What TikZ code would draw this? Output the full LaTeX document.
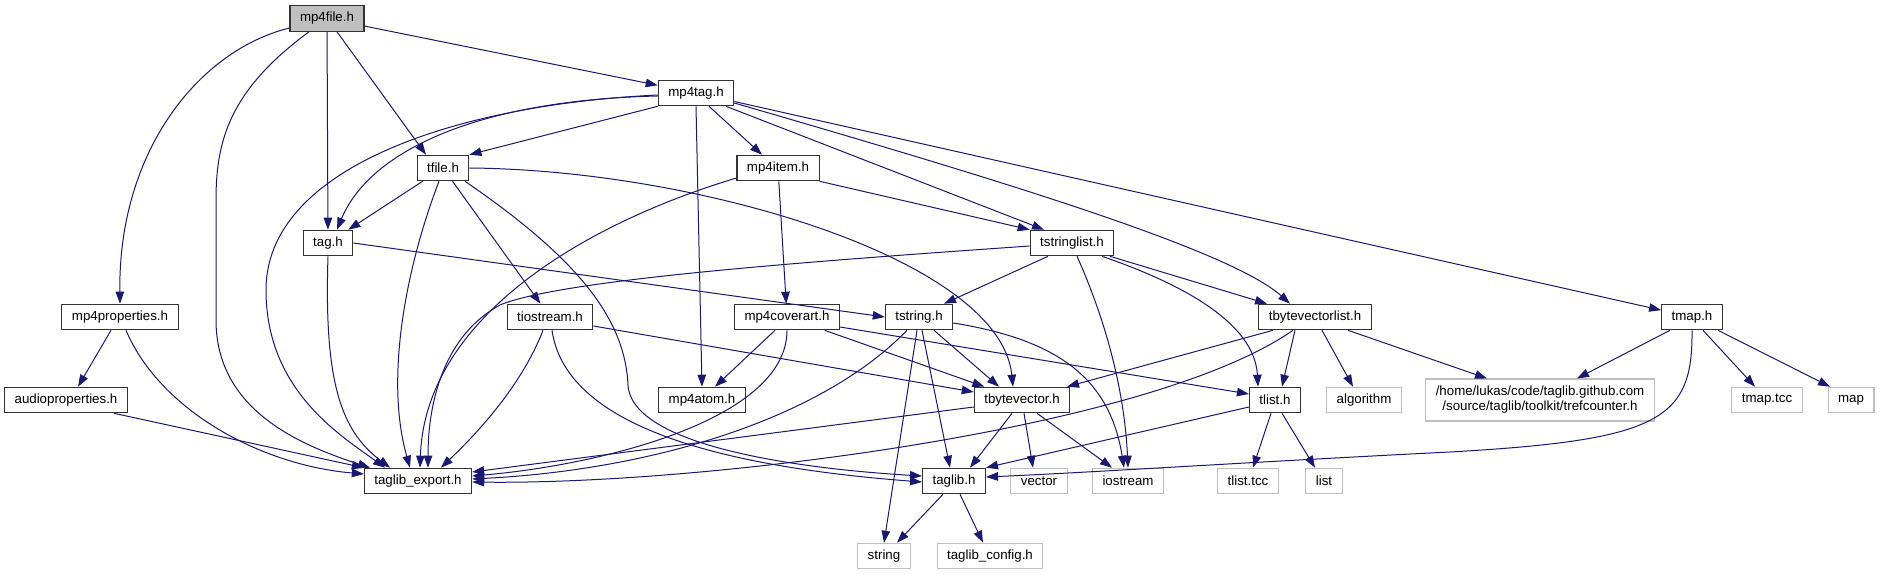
\documentclass[tikz,border=0pt]{standalone}
\usepackage{fontspec}
\setmainfont{Liberation Sans}
\usetikzlibrary{arrows.meta}
\definecolor{edgeblue}{HTML}{191970}
\definecolor{boxgray}{HTML}{BFBFBF}
\tikzset{
  hdr/.style={draw=black!80, line width=1.1pt, minimum height=25.5pt,
    inner xsep=10pt, inner ysep=0pt, font=\fontsize{13.3pt}{15pt}\selectfont},
  syshdr/.style={hdr, draw=boxgray},
  roothdr/.style={hdr, fill=boxgray},
  dep/.style={draw=edgeblue, line width=1pt, -{Triangle[length=12pt,width=8.5pt]}},
}
\begin{document}
\begin{tikzpicture}[x=1pt, y=-1pt]
  \useasboundingbox (0,0) rectangle (1880,575);
  % --- project headers ---
  \node[roothdr] (mp4file) at (327,18.5) {mp4file.h};
  \foreach \n/\x/\y/\t in {mp4tag/696/93/mp4tag.h, tfile/443/168/tfile.h,
    mp4item/778/168/mp4item.h, tag/328/243/tag.h, tstringlist/1072/243/tstringlist.h,
    mp4props/120/317/mp4properties.h, tiostream/550/317/tiostream.h,
    mp4coverart/787/317/mp4coverart.h, tstring/919/317/tstring.h,
    tbvlist/1315/317/tbytevectorlist.h, tmap/1692/317/tmap.h,
    audioprops/66/400/audioproperties.h, mp4atom/702/400/mp4atom.h,
    tbytevector/1022/400/tbytevector.h, tlist/1275/400/tlist.h,
    tlexport/418/481/taglib\_export.h, taglib/954/481/taglib.h}{
    \node[hdr] (\n) at (\x,\y) {\t};
  }
  % --- system headers ---
  \foreach \n/\x/\y/\t in {algorithm/1364/400/algorithm, tmaptcc/1767/400/tmap.tcc,
    map/1851/400/map, vector/1039/481/vector, iostream/1128/481/iostream,
    tlisttcc/1248/481/tlist.tcc, list/1324/481/list, string/884/556/string,
    tlconfig/990/556/taglib\_config.h}{
    \node[syshdr] (\n) at (\x,\y) {\t};
  }
  \node[syshdr, align=center, minimum height=42pt] (trefcounter) at (1540,400)
    {/home/lukas/code/taglib.github.com\\/source/taglib/toolkit/trefcounter.h};
  % --- mp4file.h ---
  \draw[dep] ([yshift=-9.5pt]mp4file.west) .. controls (200,50) and (118,150) .. (mp4props.north);
  \draw[dep] ([xshift=-18pt]mp4file.south) .. controls (230,90) and (216,140) .. (216,200)
    -- (216,320) .. controls (216,410) and (300,445) .. ([xshift=-48pt]tlexport.north);
  \draw[dep] (mp4file) -- (tag);
  \draw[dep] ([xshift=10pt]mp4file.south) -- ([xshift=-17pt]tfile.north);
  \draw[dep] (mp4file) -- (mp4tag);
  % --- mp4tag.h ---
  \draw[dep] ([yshift=-2pt]mp4tag.west) .. controls (450,105) and (266,170) .. (266,290)
    .. controls (266,390) and (340,435) .. ([xshift=-33pt]tlexport.north);
  \draw[dep] ([yshift=-3pt]mp4tag.west) .. controls (480,100) and (370,150) .. ([xshift=9pt]tag.north);
  \draw[dep] (mp4tag.south west) -- (tfile.north east);
  \draw[dep] ([xshift=13pt]mp4tag.south) -- ([xshift=-16pt]mp4item.north);
  \draw[dep] (mp4tag.south) -- (mp4atom.north);
  \draw[dep] ([xshift=30pt]mp4tag.south) -- ([xshift=-28pt]tstringlist.north);
  \draw[dep] ([yshift=-10pt]mp4tag.east) .. controls (1000,180) and (1230,250) .. ([xshift=-25pt]tbvlist.north);
  \draw[dep] (mp4tag) -- (tmap);
  % --- mp4item.h ---
  \draw[dep] ([yshift=-10pt]mp4item.west) .. controls (580,225) and (425,320) .. ([xshift=2pt]tlexport.north);
  \draw[dep] (mp4item.south east) -- (tstringlist.north west);
  \draw[dep] (mp4item) -- (mp4coverart);
  % --- tfile.h ---
  \draw[dep] (tfile) -- (tag);
  \draw[dep] ([xshift=-4pt]tfile.south) .. controls (405,270) and (385,380) .. ([xshift=-8pt]tlexport.north);
  \draw[dep] (tfile) -- (tiostream);
  \draw[dep] ([xshift=22pt]tfile.south) .. controls (580,260) and (625,320) .. (628,385)
    .. controls (632,450) and (820,470) .. ([yshift=5pt]taglib.west);
  \draw[dep] (tfile.east) .. controls (700,170) and (1000,260) .. ([xshift=-9pt]tbytevector.north);
  % --- tag.h ---
  \draw[dep] (tag.south) .. controls (324,380) and (340,430) .. ([xshift=-28pt]tlexport.north);
  \draw[dep] (tag.east) -- (tstring.west);
  % --- tstringlist.h ---
  \draw[dep] ([yshift=-3pt]tstringlist.west) .. controls (800,262) and (560,280) .. (500,305)
    .. controls (445,335) and (428,400) .. ([xshift=10pt]tlexport.north);
  \draw[dep] ([xshift=-24pt]tstringlist.south) -- ([xshift=25pt]tstring.north);
  \draw[dep] ([xshift=5pt]tstringlist.south) .. controls (1110,330) and (1125,400) .. (iostream.north);
  \draw[dep] ([xshift=30pt]tstringlist.south) .. controls (1200,290) and (1255,330) .. ([xshift=-17pt]tlist.north);
  \draw[dep] ([xshift=38pt]tstringlist.south) -- ([xshift=-48pt]tbvlist.north);
  % --- mp4properties.h, audioproperties.h ---
  \draw[dep] ([xshift=-9pt]mp4props.south) -- ([xshift=12pt]audioprops.north);
  \draw[dep] ([xshift=6pt]mp4props.south) .. controls (160,410) and (260,465) .. ([yshift=7pt]tlexport.west);
  \draw[dep] ([xshift=48pt]audioprops.south) -- (tlexport.north west);
  % --- tiostream.h ---
  \draw[dep] ([xshift=-7pt]tiostream.south) .. controls (520,390) and (470,440) .. ([xshift=23pt]tlexport.north);
  \draw[dep] ([xshift=2pt]tiostream.south) .. controls (565,420) and (700,465) .. ([yshift=-1pt]taglib.west);
  \draw[dep] ([yshift=-9pt]tiostream.east) -- ([yshift=8pt]tbytevector.west);
  % --- mp4coverart.h ---
  \draw[dep] ([xshift=-12pt]mp4coverart.south) -- ([xshift=13pt]mp4atom.north);
  \draw[dep] (mp4coverart.south) .. controls (787,420) and (600,465) .. ([yshift=5pt]tlexport.east);
  \draw[dep] (mp4coverart) -- (tbytevector);
  \draw[dep] ([yshift=-10pt]mp4coverart.east) -- ([yshift=6pt]tlist.west);
  % --- tstring.h ---
  \draw[dep] ([xshift=-12pt]tstring.south) .. controls (820,420) and (650,470) .. ([yshift=2pt]tlexport.east);
  \draw[dep] ([xshift=15pt]tstring.south) -- ([xshift=-23pt]tbytevector.north);
  \draw[dep] ([xshift=3pt]tstring.south) -- ([xshift=-4pt]taglib.north);
  \draw[dep] ([xshift=-2pt]tstring.south) -- (string.north);
  \draw[dep] ([yshift=-6pt]tstring.east) .. controls (1060,340) and (1110,380) .. ([xshift=-4pt]iostream.north);
  % --- tbytevectorlist.h ---
  \draw[dep] ([xshift=-42pt]tbvlist.south) -- ([xshift=45pt]tbytevector.north);
  \draw[dep] ([xshift=-22pt]tbvlist.south) .. controls (1150,430) and (700,485) .. ([yshift=-1pt]tlexport.east);
  \draw[dep] ([xshift=-20pt]tbvlist.south) -- ([xshift=7pt]tlist.north);
  \draw[dep] ([xshift=7pt]tbvlist.south) -- ([xshift=-11pt]algorithm.north);
  \draw[dep] ([xshift=33pt]tbvlist.south) -- ([xshift=-53pt]trefcounter.north);
  % --- tmap.h ---
  \draw[dep] ([xshift=-22pt]tmap.south) -- ([xshift=37pt]trefcounter.north);
  \draw[dep] (tmap.south) .. controls (1693,420) and (1660,440) .. (1450,452)
    .. controls (1250,462) and (1100,472) .. ([yshift=4pt]taglib.east);
  \draw[dep] ([xshift=11pt]tmap.south) -- ([xshift=-12pt]tmaptcc.north);
  \draw[dep] ([xshift=26pt]tmap.south) -- ([xshift=-21pt]map.north);
  % --- tbytevector.h ---
  \draw[dep] ([yshift=-7pt]tbytevector.west) -- ([yshift=9pt]tlexport.east);
  \draw[dep] ([xshift=-10pt]tbytevector.south) -- ([xshift=16pt]taglib.north);
  \draw[dep] ([xshift=2pt]tbytevector.south) -- ([xshift=-6pt]vector.north);
  \draw[dep] ([xshift=15pt]tbytevector.south) -- ([xshift=-16pt]iostream.north);
  % --- tlist.h ---
  \draw[dep] ([yshift=-7pt]tlist.west) -- (taglib.north east);
  \draw[dep] ([xshift=-4pt]tlist.south) -- ([xshift=5pt]tlisttcc.north);
  \draw[dep] ([xshift=7pt]tlist.south) -- ([xshift=-9pt]list.north);
  % --- taglib.h ---
  \draw[dep] ([xshift=-11pt]taglib.south) -- ([xshift=13pt]string.north);
  \draw[dep] ([xshift=6pt]taglib.south) -- ([xshift=-7pt]tlconfig.north);
\end{tikzpicture}
\end{document}
